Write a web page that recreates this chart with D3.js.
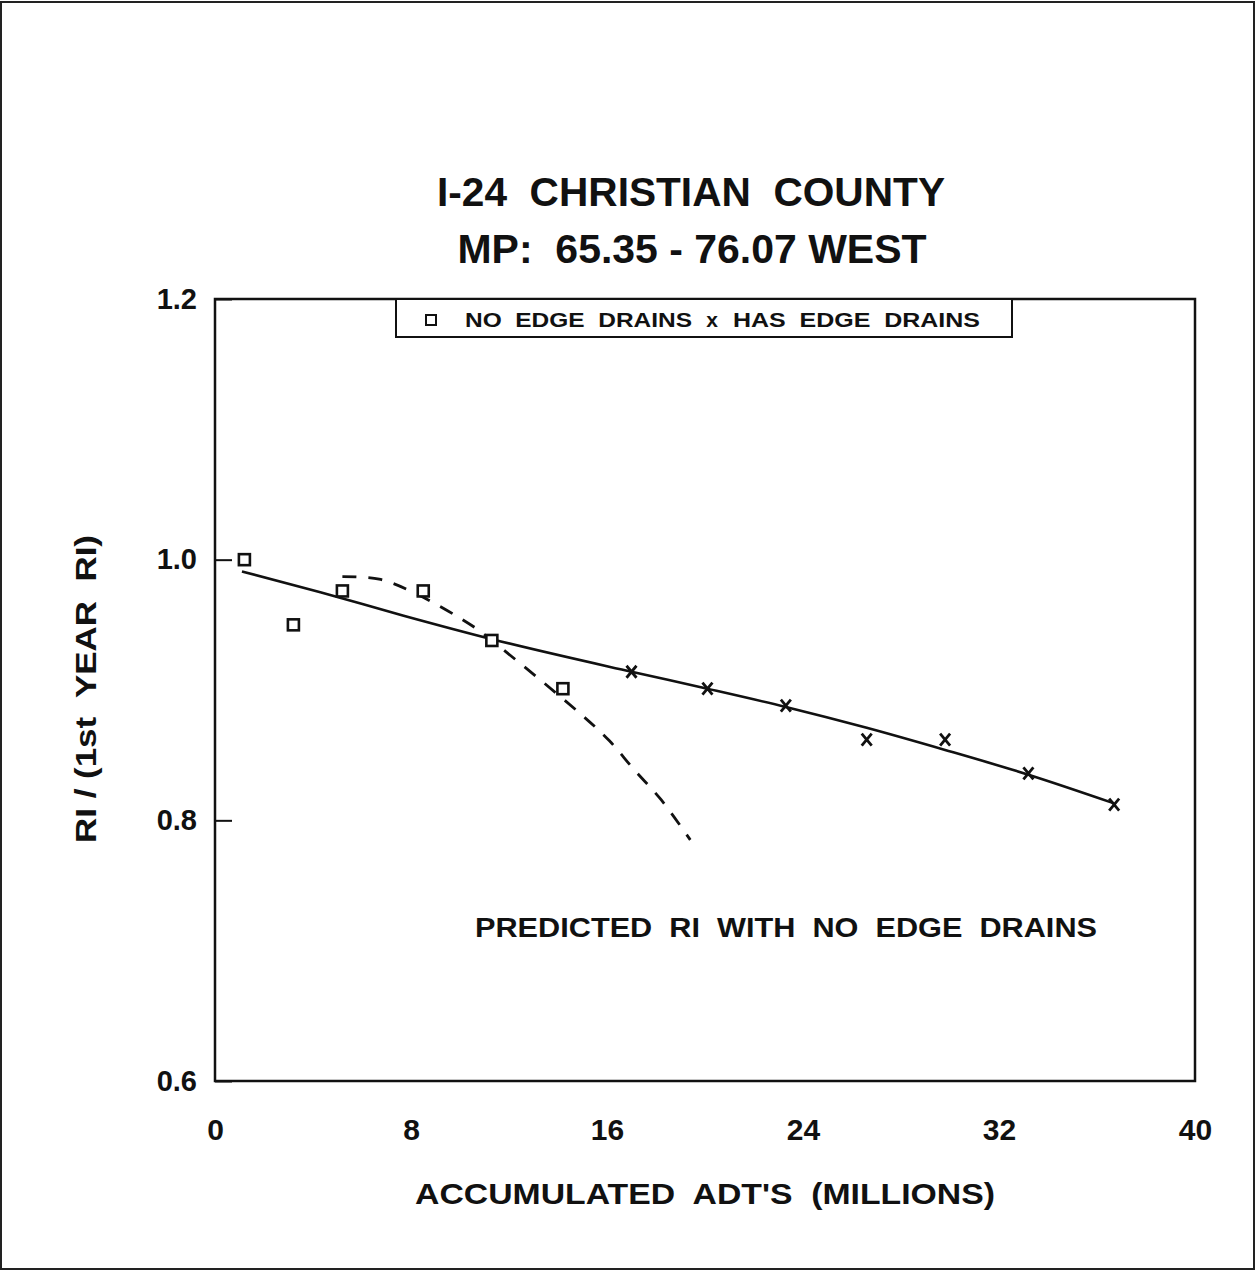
<!DOCTYPE html>
<html>
<head>
<meta charset="utf-8">
<script src="https://cdn.jsdelivr.net/npm/d3@7"></script>
<style>
  body { margin: 0; background: #fff; }
  text { font-family: "Liberation Sans", Arial, sans-serif; font-weight: bold; fill: #111; white-space: pre; }
</style>
</head>
<body>
<div id="chart"></div>
<script>
// squares: no edge drains
var noDrainX = [1.2, 3.2, 5.2, 8.5, 11.3, 14.2];
var noDrainY = [1.0, 0.950, 0.976, 0.976, 0.938, 0.901];
// crosses: has edge drains
var drainX = [17.0, 20.1, 23.3, 26.6, 29.8, 33.2, 36.7];
var drainY = [0.914, 0.901, 0.888, 0.862, 0.862, 0.836, 0.812];
// solid fitted line
var fitX = [1.1, 4.3, 7.7, 11.3, 17.0, 20.1, 23.3, 26.6, 29.8, 33.2, 36.7];
var fitY = [0.991, 0.975, 0.957, 0.939, 0.914, 0.901, 0.887, 0.871, 0.854, 0.835, 0.813];
// dashed predicted curve
var predX = [5.2, 6.7, 8.2, 10.6, 11.3, 14.9, 16.1, 17.1, 18.2, 19.4];
var predY = [0.987, 0.985, 0.974, 0.948, 0.938, 0.882, 0.861, 0.839, 0.816, 0.785];

var xTicks = [0, 8, 16, 24, 32, 40];
var yTicks = [0.6, 0.8, 1.0, 1.2];

var width = 1256, height = 1272;
var margin = {left: 215, right: 61, top: 299, bottom: 191};

var svg = d3.select('#chart').append('svg')
  .attr('width', width)
  .attr('height', height);

// outer page border
svg.append('rect')
  .attr('x', 1).attr('y', 2)
  .attr('width', width - 3).attr('height', height - 5)
  .attr('fill', 'none').attr('stroke', '#222').attr('stroke-width', 2);

var x = d3.scaleLinear().domain([0, 40]).range([margin.left, width - margin.right]);
var y = d3.scaleLinear().domain([0.6, 1.2]).range([height - margin.bottom, margin.top]);

function zip(xs, ys) { return xs.map(function(v, i) { return [v, ys[i]]; }); }

// titles
svg.append('text')
  .attr('x', 691).attr('y', 206)
  .attr('text-anchor', 'middle')
  .style('font-size', '40px')
  .attr('textLength', 508).attr('lengthAdjust', 'spacingAndGlyphs')
  .text('I-24  CHRISTIAN  COUNTY');

svg.append('text')
  .attr('x', 692).attr('y', 263)
  .attr('text-anchor', 'middle')
  .style('font-size', '40px')
  .attr('textLength', 469).attr('lengthAdjust', 'spacingAndGlyphs')
  .text('MP:  65.35 - 76.07 WEST');

// y axis with inward ticks
svg.append('g')
  .attr('transform', 'translate(' + margin.left + ',0)')
  .call(d3.axisLeft(y).tickValues(yTicks).tickFormat(d3.format('.1f'))
    .tickSizeInner(-17).tickSizeOuter(0).tickPadding(18))
  .call(function(g) {
    g.select('.domain').remove();
    g.selectAll('line').attr('stroke', '#111').attr('stroke-width', 2);
    g.selectAll('text').style('font-size', '29px').attr('fill', '#111');
  });

// x axis labels
svg.append('g')
  .attr('transform', 'translate(0,' + (height - margin.bottom) + ')')
  .call(d3.axisBottom(x).tickValues(xTicks).tickSize(0).tickPadding(38))
  .call(function(g) {
    g.select('.domain').remove();
    g.selectAll('text').style('font-size', '30px').attr('fill', '#111');
  });

// plot frame
svg.append('rect')
  .attr('x', x(0)).attr('y', y(1.2))
  .attr('width', x(40) - x(0)).attr('height', y(0.6) - y(1.2))
  .attr('fill', 'none').attr('stroke', '#111').attr('stroke-width', 2.5);

// axis titles
svg.append('text')
  .attr('x', 705).attr('y', 1204)
  .attr('text-anchor', 'middle')
  .style('font-size', '30px')
  .attr('textLength', 580).attr('lengthAdjust', 'spacingAndGlyphs')
  .text("ACCUMULATED  ADT'S  (MILLIONS)");

svg.append('text')
  .attr('transform', 'translate(96,689) rotate(-90)')
  .attr('text-anchor', 'middle')
  .style('font-size', '29px')
  .attr('textLength', 308).attr('lengthAdjust', 'spacingAndGlyphs')
  .text('RI / (1st  YEAR  RI)');

// fitted line
var line = d3.line()
  .x(function(d) { return x(d[0]); })
  .y(function(d) { return y(d[1]); })
  .curve(d3.curveMonotoneX);

svg.append('path')
  .datum(zip(fitX, fitY))
  .attr('d', line)
  .attr('fill', 'none').attr('stroke', '#111').attr('stroke-width', 2.6);

// predicted dashed curve
svg.append('path')
  .datum(zip(predX, predY))
  .attr('d', line.curve(d3.curveCatmullRom))
  .attr('fill', 'none').attr('stroke', '#111').attr('stroke-width', 2.8)
  .attr('stroke-dasharray', '14,12');

// square markers
svg.selectAll('.sq')
  .data(zip(noDrainX, noDrainY))
  .enter().append('rect')
  .attr('class', 'sq')
  .attr('x', function(d) { return x(d[0]) - 5.5; })
  .attr('y', function(d) { return y(d[1]) - 5.5; })
  .attr('width', 11).attr('height', 11)
  .attr('fill', '#fff').attr('stroke', '#111').attr('stroke-width', 2.6);

// cross markers
svg.selectAll('.cx')
  .data(zip(drainX, drainY))
  .enter().append('path')
  .attr('class', 'cx')
  .attr('transform', function(d) { return 'translate(' + x(d[0]) + ',' + y(d[1]) + ')'; })
  .attr('d', 'M-5,-6L5,6M5,-6L-5,6')
  .attr('stroke', '#111').attr('stroke-width', 2.8);

// legend
var legend = svg.append('g');
legend.append('rect')
  .attr('x', 396).attr('y', y(1.2))
  .attr('width', 616).attr('height', 38)
  .attr('fill', '#fff').attr('stroke', '#111').attr('stroke-width', 2);
legend.append('rect')
  .attr('x', 426).attr('y', 315)
  .attr('width', 10).attr('height', 10)
  .attr('fill', '#fff').attr('stroke', '#111').attr('stroke-width', 2);
legend.append('text')
  .attr('x', 465).attr('y', 327)
  .style('font-size', '21px')
  .attr('textLength', 227).attr('lengthAdjust', 'spacingAndGlyphs')
  .text('NO  EDGE  DRAINS');
legend.append('text')
  .attr('x', 712).attr('y', 327)
  .attr('text-anchor', 'middle')
  .style('font-size', '21px')
  .text('x');
legend.append('text')
  .attr('x', 733).attr('y', 327)
  .style('font-size', '21px')
  .attr('textLength', 247).attr('lengthAdjust', 'spacingAndGlyphs')
  .text('HAS  EDGE  DRAINS');

// annotation
svg.append('text')
  .attr('x', 475).attr('y', 937)
  .style('font-size', '27px')
  .attr('textLength', 622).attr('lengthAdjust', 'spacingAndGlyphs')
  .text('PREDICTED  RI  WITH  NO  EDGE  DRAINS');
</script>
</body>
</html>
